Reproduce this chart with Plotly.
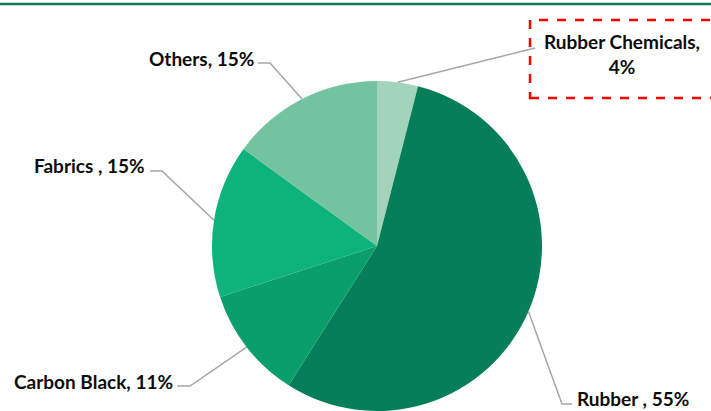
import math
import plotly.graph_objects as go

categories = ["Rubber Chemicals", "Rubber ", "Carbon Black", "Fabrics ", "Others"]
values = [4, 55, 11, 15, 15]
label_texts = ["Rubber Chemicals,<br>4%", "Rubber , 55%", "Carbon Black, 11%", "Fabrics , 15%", "Others, 15%"]
colors = ["#a2d4bc", "#067e58", "#0a9e6c", "#0eb27b", "#74c3a0"]

W, H = 711, 411
CX, R = 377, 165
CY = H - R

def px(x):
    return x / W

def py(y):
    return 1 - y / H

# label layout: text anchor position and elbow points in px
label_layout = [
    dict(x=622, y=54, xanchor="center", elbow=[(535, 48)]),
    dict(x=576, y=398, xanchor="left", elbow=[(572, 404), (562, 404)]),
    dict(x=174, y=381, xanchor="right", elbow=[(177, 386), (190, 386)]),
    dict(x=146, y=166, xanchor="right", elbow=[(150, 171), (162, 171)]),
    dict(x=255, y=58, xanchor="right", elbow=[(258, 63), (270, 63)]),
]

fig = go.Figure(go.Pie(
    labels=categories,
    values=values,
    sort=False,
    direction="clockwise",
    rotation=0,
    marker=dict(colors=colors, line=dict(width=0)),
    textinfo="none",
    hoverinfo="label+percent",
    showlegend=False,
    domain=dict(x=[px(CX - R), px(CX + R)], y=[0, 2 * R / H]),
))

total = sum(values)
cum = 0
shapes = []
annotations = []
for v, txt, lay in zip(values, label_texts, label_layout):
    mid = (cum + v / 2) / total * 2 * math.pi
    cum += v
    ex = CX + R * math.sin(mid)
    ey = CY - R * math.cos(mid)
    pts = lay["elbow"] + [(ex, ey)]
    path = "M " + " L ".join(f"{px(a):.5f},{py(b):.5f}" for a, b in pts)
    shapes.append(dict(type="path", xref="paper", yref="paper", path=path,
                       line=dict(color="#a6a6a6", width=1.5)))
    annotations.append(dict(x=px(lay["x"]), y=py(lay["y"]), xref="paper", yref="paper",
                            text=f"<b>{txt}</b>", showarrow=False,
                            xanchor=lay["xanchor"], yanchor="middle", align="center",
                            borderpad=0,
                            font=dict(family="Lato", size=19, color="#0d0d0d")))

# top green rule
shapes.append(dict(type="line", xref="paper", yref="paper", x0=0, x1=1, y0=py(4), y1=py(4),
                   line=dict(color="#0a7d5a", width=2.5)))
# red dashed box around Rubber Chemicals label
shapes.append(dict(type="rect", xref="paper", yref="paper", x0=px(530), x1=px(716),
                   y0=py(98), y1=py(20), line=dict(color="#ff0000", width=2.5, dash="dash")))

fig.update_layout(
    width=W, height=H,
    margin=dict(l=0, r=0, t=0, b=0),
    paper_bgcolor="white", plot_bgcolor="white",
    shapes=shapes, annotations=annotations,
)
fig.write_html("out.html")
